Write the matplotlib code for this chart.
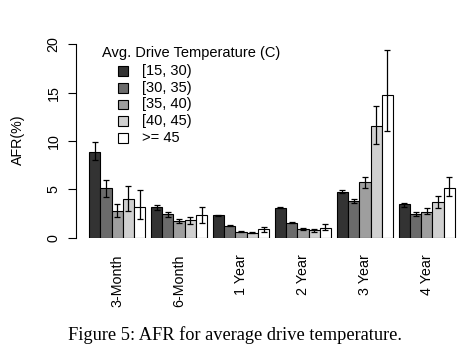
import matplotlib
matplotlib.use("Agg")
import matplotlib.pyplot as plt
from matplotlib.patches import Rectangle
import numpy as np

categories = ['3-Month', '6-Month', '1 Year', '2 Year', '3 Year', '4 Year']
temp_labels = ['[15, 30)', '[30, 35)', '[35, 40)', '[40, 45)', '>= 45']
colors = ['#333333', '#6b6b6b', '#9e9e9e', '#d0d0d0', '#ffffff']

afr_15_30 = [8.85, 3.15, 2.30, 3.10, 4.75, 3.45]
afr_30_35 = [5.10, 2.40, 1.22, 1.55, 3.75, 2.42]
afr_35_40 = [2.75, 1.72, 0.62, 0.90, 5.72, 2.68]
afr_40_45 = [3.97, 1.82, 0.52, 0.76, 11.52, 3.66]
afr_ge_45 = [3.14, 2.35, 0.87, 1.00, 14.72, 5.14]

err_hi_15_30 = [1.00, 0.25, 0.05, 0.05, 0.14, 0.14]
err_lo_15_30 = [0.86, 0.28, 0.05, 0.05, 0.10, 0.28]
err_hi_30_35 = [0.90, 0.28, 0.05, 0.05, 0.27, 0.27]
err_lo_30_35 = [0.90, 0.30, 0.05, 0.05, 0.21, 0.21]
err_hi_35_40 = [0.70, 0.24, 0.05, 0.10, 0.55, 0.41]
err_lo_35_40 = [0.65, 0.23, 0.05, 0.10, 0.59, 0.27]
err_hi_40_45 = [1.40, 0.35, 0.08, 0.12, 2.08, 0.65]
err_lo_40_45 = [1.17, 0.43, 0.08, 0.12, 1.86, 0.62]
err_hi_ge_45 = [1.82, 0.85, 0.20, 0.38, 4.67, 1.14]
err_lo_ge_45 = [1.24, 0.80, 0.25, 0.20, 3.70, 0.86]

series = [afr_15_30, afr_30_35, afr_35_40, afr_40_45, afr_ge_45]
err_hi = [err_hi_15_30, err_hi_30_35, err_hi_35_40, err_hi_40_45, err_hi_ge_45]
err_lo = [err_lo_15_30, err_lo_30_35, err_lo_35_40, err_lo_40_45, err_lo_ge_45]

W, H = 468, 352
fig = plt.figure(figsize=(W / 100, H / 100), dpi=100)
plt.rcParams['font.family'] = ['Liberation Sans', 'DejaVu Sans']

def fx(px):
    return px / W

def fy(py):
    return 1 - py / H

# axes placement (pixel space)
ax_left, ax_right = 75.7, 468.0
ax_top, ax_bot = 44.3, 237.7
ax = fig.add_axes([fx(ax_left), fy(ax_bot), (ax_right - ax_left) / W, (ax_bot - ax_top) / H])

nser = len(series)
gap = 0.5
group_w = nser + gap
xscale = 11.26  # px per bar width
bars_start_px = 89.0
x_left = -(bars_start_px - ax_left) / xscale
x_right = x_left + (ax_right - ax_left) / xscale

idx = np.arange(len(categories))
for j, (vals, lo, hi) in enumerate(zip(series, err_lo, err_hi)):
    x = idx * group_w + j + 0.5
    ax.bar(x, vals, width=1.0, color=colors[j], edgecolor='black', linewidth=0.8, zorder=2)
    ax.errorbar(x, vals, yerr=[lo, hi], fmt='none', ecolor='black', elinewidth=0.9,
                capsize=2.2, capthick=0.9, zorder=3, clip_on=False)

ax.set_xlim(x_left, x_right)
ax.set_ylim(0, 20)
for s in ['top', 'right', 'bottom']:
    ax.spines[s].set_visible(False)
ax.spines['left'].set_bounds(0, 20)
ax.spines['left'].set_linewidth(0.8)
ax.set_yticks([0, 5, 10, 15, 20])
ax.set_yticklabels(['0', '5', '10', '15', '20'], rotation=90, va='center', ha='right')
ax.tick_params(axis='y', direction='out', length=5.8, width=0.8, pad=5.0, labelsize=10.3)
ax.set_xticks(idx * group_w + nser / 2)
ax.set_xticklabels(categories, rotation=90, va='top', ha='center')
ax.tick_params(axis='x', length=0, pad=12.0, labelsize=10.3)
ax.patch.set_visible(False)

fig.text(fx(18), fy(140), 'AFR(%)', rotation=90, ha='center', va='center', fontsize=10.3)

# legend
fig.text(fx(101.7), fy(52.7), 'Avg. Drive Temperature (C)', ha='left', va='center', fontsize=10.5)
row0, dy = 71.0, 16.7
for j, lab in enumerate(temp_labels):
    cy = row0 + j * dy
    r = Rectangle((fx(118), fy(cy + 4.8)), 10 / W, 9.6 / H, transform=fig.transFigure,
                  facecolor=colors[j], edgecolor='black', linewidth=0.8)
    fig.add_artist(r)
    fig.text(fx(141.7), fy(cy), lab, ha='left', va='center', fontsize=10.5)

fig.text(fx(235), fy(335), 'Figure 5: AFR for average drive temperature.', ha='center', va='center',
         fontsize=13.2, family=['Liberation Serif', 'DejaVu Serif'])

fig.savefig('out.png', dpi=100)
